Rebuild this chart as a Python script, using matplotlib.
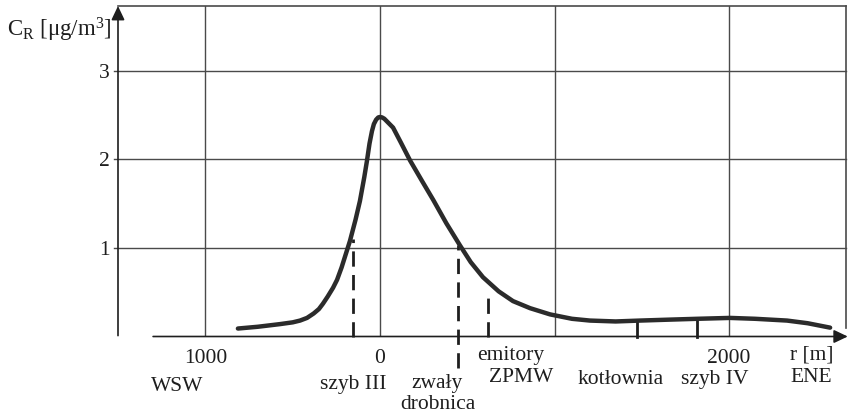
import matplotlib
matplotlib.use("Agg")
import matplotlib.pyplot as plt

plt.rcParams['font.family'] = ['Liberation Serif', 'DejaVu Serif']
plt.rcParams['mathtext.fontset'] = 'custom'
plt.rcParams['mathtext.rm'] = 'Liberation Serif'
plt.rcParams['mathtext.it'] = 'Liberation Serif:italic'

# concentration profile along the WSW-ENE line (r < 0 is WSW)
r = [-814, -700, -573, -500, -458, -418, -380, -350, -327, -300, -269, -246,
     -220, -172, -140, -115, -90, -75, -60, -46, -35, -22, -10, 0, 12, 25,
     40, 75, 120, 172, 240, 306, 380, 458, 520, 590, 680, 762, 860, 974,
     1100, 1203, 1350, 1490, 1650, 1817, 2006, 2150, 2332, 2450, 2579]
c = [0.09, 0.11, 0.14, 0.16, 0.18, 0.21, 0.26, 0.31, 0.37, 0.45, 0.55, 0.64,
     0.78, 1.08, 1.32, 1.53, 1.80, 1.98, 2.18, 2.32, 2.40, 2.45, 2.475, 2.48,
     2.475, 2.46, 2.43, 2.36, 2.19, 1.99, 1.76, 1.54, 1.28, 1.03, 0.84, 0.67,
     0.51, 0.40, 0.32, 0.25, 0.20, 0.18, 0.17, 0.18, 0.19, 0.20, 0.21, 0.20,
     0.18, 0.15, 0.10]

# sources: position, top of marker line, bottom, dashed?
sites_r = [-155, 447, 619, 1473, 1817]
sites_top = [1.10, 1.03, 0.53, 0.18, 0.20]
sites_bot = [0.0, -0.36, 0.0, 0.0, 0.0]
sites_dashed = [True, True, True, False, False]

xtick_pos = [-1000, 0, 2000]
xtick_lab = ['1000', '0', '2000']
ytick_pos = [1, 2, 3]
grid_x = [-1000, 0, 1000, 2000]

W, H = 848, 415
fig = plt.figure(figsize=(W / 100, H / 100), dpi=100)
ax = fig.add_axes([118 / W, (H - 336.5) / H, (846 - 118) / W, (336.5 - 6) / H])
xmin, xmax = -1501, 2670
ymin, ymax = 0, 3.734
ax.set_xlim(xmin, xmax)
ax.set_ylim(ymin, ymax)
for s in ax.spines.values():
    s.set_visible(False)

ink = '#1e1e1e'
gcol = '#4a4a4a'

# grid
for gx in grid_x:
    ax.plot([gx, gx], [0, ymax], color=gcol, lw=1.0, zorder=1)
for gy in ytick_pos:
    ax.plot([xmin - 25, xmax], [gy, gy], color=gcol, lw=1.0, zorder=1, clip_on=False)
ax.plot([xmin, xmax], [ymax, ymax], color=gcol, lw=1.2, zorder=1, clip_on=False)
ax.plot([xmax, xmax], [0.1, ymax], color=gcol, lw=1.2, zorder=1, clip_on=False)

# axes with arrows
ax.annotate('', xy=(xmin, ymax), xytext=(xmin, 0.01),
            arrowprops=dict(arrowstyle='-|>,head_length=0.42,head_width=0.2',
                            mutation_scale=20, lw=1.2, color=ink,
                            shrinkA=0, shrinkB=0), annotation_clip=False)
ax.annotate('', xy=(xmax + 10, 0), xytext=(-1300, 0),
            arrowprops=dict(arrowstyle='-|>,head_length=0.42,head_width=0.2',
                            mutation_scale=20, lw=1.2, color=ink,
                            shrinkA=0, shrinkB=0), annotation_clip=False)

# curve
ax.plot(r, c, color='#2b2b2b', lw=3.2, solid_capstyle='round',
        solid_joinstyle='round', zorder=3)

# source markers
for sr, st, sb, sd in zip(sites_r, sites_top, sites_bot, sites_dashed):
    ax.plot([sr, sr], [sb, st], color=ink, lw=2.0,
            linestyle=(0, (5.5, 3)) if sd else '-', zorder=2, clip_on=False)

# ticks
ax.set_xticks(xtick_pos, xtick_lab)
ax.set_yticks(ytick_pos, [str(v) for v in ytick_pos])
ax.tick_params(axis='x', length=0, pad=9, labelsize=15.5, colors=ink)
ax.tick_params(axis='y', length=0, pad=6, labelsize=15.5, colors=ink)

def label(x, y, s, size=15.5):
    fig.text(x / W, 1 - y / H, s, ha='center', va='center', fontsize=size,
             color=ink)

label(59, 30, r'C$_\mathrm{R}$ [$\mathrm{\mu}$g/m$^3$]', size=16.5)
label(812, 355, 'r [m]')
label(177, 386, 'WSW')
label(353, 384, 'szyb III')
label(437, 383, 'zwały')
label(438, 404, 'drobnica')
label(511, 355, 'emitory')
label(521, 377, 'ZPMW')
label(621, 379, 'kotłownia')
label(715, 379, 'szyb IV')
label(811, 377, 'ENE')

fig.savefig('out.png', dpi=100)
